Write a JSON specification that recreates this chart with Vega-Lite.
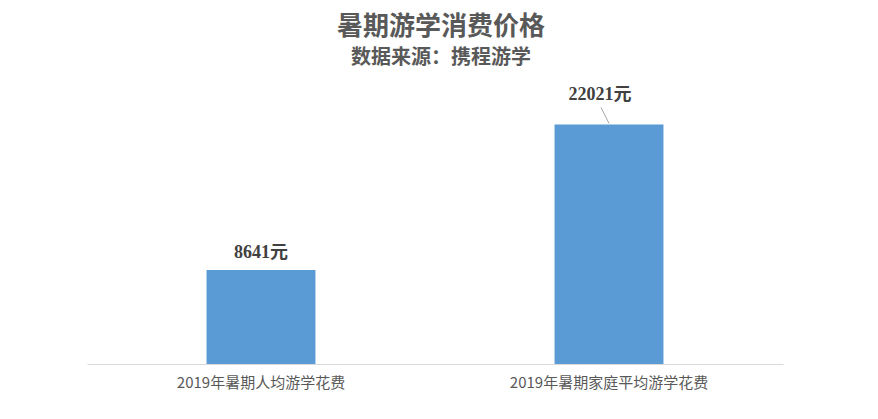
{
  "$schema": "https://vega.github.io/schema/vega-lite/v6.json",
  "autosize": "none",
  "width": 696,
  "height": 272,
  "padding": {"left": 87, "top": 92, "right": 95, "bottom": 55},
  "background": "white",
  "title": {
    "text": "暑期游学消费价格",
    "subtitle": "数据来源：携程游学",
    "anchor": "middle",
    "dx": 6,
    "font": "Noto Sans CJK SC",
    "subtitleFont": "Noto Sans CJK SC",
    "fontSize": 26,
    "subtitleFontSize": 20,
    "fontWeight": "bold",
    "subtitleFontWeight": "bold",
    "color": "#595959",
    "subtitleColor": "#595959",
    "subtitlePadding": 8,
    "offset": 18
  },
  "data": {
    "values": [
      {"cat": "2019年暑期人均游学花费", "v": 8641, "label": "8641元"},
      {"cat": "2019年暑期家庭平均游学花费", "v": 22021, "label": "22021元"}
    ]
  },
  "encoding": {
    "x": {
      "field": "cat",
      "type": "nominal",
      "sort": null,
      "scale": {"paddingInner": 0.687, "paddingOuter": 0.3435},
      "axis": {
        "title": null,
        "labelAngle": 0,
        "labelLimit": 0,
        "labelFont": "Noto Sans CJK SC",
        "labelFontSize": 15,
        "labelColor": "#595959",
        "labelPadding": 11,
        "ticks": false,
        "domainColor": "#D9D9D9",
        "domainWidth": 1
      }
    },
    "y": {
      "field": "v",
      "type": "quantitative",
      "scale": {"domain": [0, 25000], "nice": false},
      "axis": null
    }
  },
  "layer": [
    {"mark": {"type": "bar", "color": "#5B9BD5"}},
    {
      "transform": [{"filter": "datum.v < 10000"}],
      "mark": {"type": "text", "font": "Liberation Serif, Noto Sans CJK SC", "fontSize": 18, "fontWeight": "bold", "color": "#404040", "baseline": "middle", "yOffset": -17},
      "encoding": {"text": {"field": "label"}}
    },
    {
      "transform": [{"filter": "datum.v > 10000"}],
      "mark": {"type": "text", "font": "Liberation Serif, Noto Sans CJK SC", "fontSize": 18, "fontWeight": "bold", "color": "#404040", "baseline": "middle", "yOffset": -29, "xOffset": -9},
      "encoding": {"text": {"field": "label"}}
    },
    {
      "transform": [{"filter": "datum.v > 10000"}],
      "mark": {"type": "rule", "color": "#A6A6A6", "strokeWidth": 1, "xOffset": -8, "yOffset": -17, "x2Offset": 0, "y2Offset": -1},
      "encoding": {
        "x2": {"field": "cat"},
        "y2": {"field": "v"}
      }
    }
  ],
  "config": {"view": {"stroke": null}}
}
